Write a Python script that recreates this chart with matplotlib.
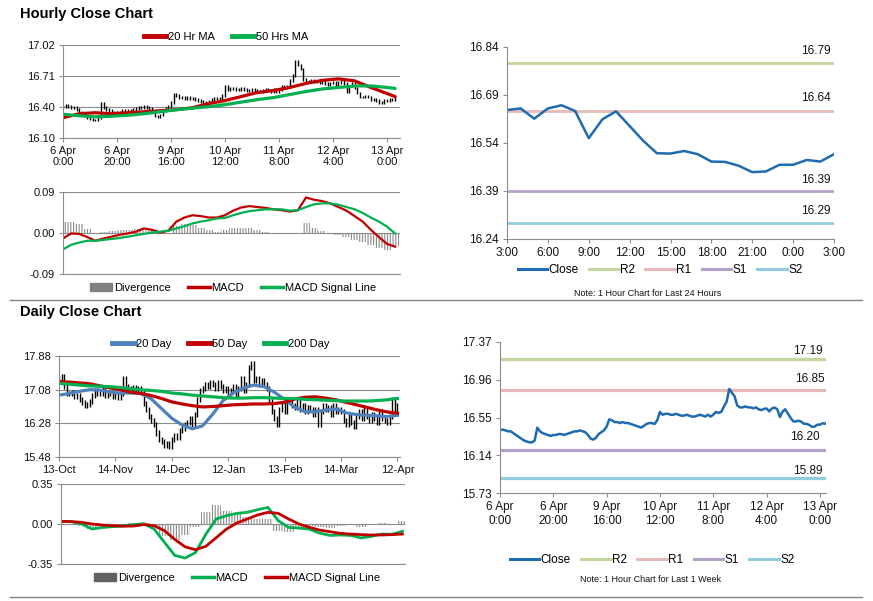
import numpy as np
import matplotlib.pyplot as plt
from matplotlib.lines import Line2D
from matplotlib.patches import Patch

plt.rcParams['font.family'] = ['Liberation Sans', 'DejaVu Sans']
plt.rcParams['hatch.linewidth'] = 0.8

# ---- hourly data (last week, one value per trading hour) ----
hourly_close = [
    16.41, 16.42, 16.41, 16.40, 16.40, 16.38, 16.36, 16.34, 16.32, 16.30,
    16.29, 16.28, 16.28, 16.30, 16.44, 16.40, 16.38, 16.37, 16.36, 16.35,
    16.36, 16.36, 16.37, 16.37, 16.36, 16.37, 16.38, 16.39, 16.40, 16.40,
    16.41, 16.40, 16.39, 16.36, 16.32, 16.31, 16.33, 16.37, 16.39, 16.41,
    16.45, 16.53, 16.52, 16.50, 16.50, 16.49, 16.50, 16.49, 16.49, 16.48,
    16.47, 16.46, 16.45, 16.44, 16.46, 16.48, 16.49, 16.49, 16.48, 16.52,
    16.61, 16.58, 16.59, 16.59, 16.58, 16.58, 16.59, 16.58, 16.57, 16.57,
    16.58, 16.57, 16.56, 16.56, 16.57, 16.58, 16.57, 16.56, 16.58, 16.56,
    16.58, 16.61, 16.60, 16.61, 16.67, 16.72, 16.86, 16.82, 16.78, 16.68,
    16.66, 16.66, 16.67, 16.66, 16.66, 16.65, 16.66, 16.64, 16.63,
    16.643, 16.648, 16.616, 16.648, 16.658, 16.640, 16.555, 16.614, 16.639, 16.593,
    16.547, 16.508, 16.507, 16.515, 16.505, 16.482, 16.481, 16.469, 16.449, 16.451,
    16.472, 16.472, 16.487, 16.482, 16.505,
]
hourly_ticks = ['6 Apr\n0:00', '6 Apr\n20:00', '9 Apr\n16:00', '10 Apr\n12:00',
                '11 Apr\n8:00', '12 Apr\n4:00', '13 Apr\n0:00']

hourly_ma_idx = [0, 6, 12, 18, 24, 30, 36, 42, 48, 54, 60, 66, 72, 78, 84, 90, 96, 102, 108, 114, 120, 123]
ma20_hr = [16.30, 16.34, 16.35, 16.34, 16.35, 16.36, 16.37, 16.38, 16.40, 16.44, 16.47,
           16.51, 16.55, 16.57, 16.60, 16.64, 16.67, 16.685, 16.665, 16.60, 16.54, 16.51]
ma50_hr = [16.335, 16.32, 16.31, 16.315, 16.325, 16.34, 16.36, 16.38, 16.395, 16.41, 16.43,
           16.455, 16.48, 16.50, 16.53, 16.56, 16.585, 16.60, 16.615, 16.615, 16.60, 16.59]

hourly_macd_idx = list(range(0, 124, 3))
macd_hr = [-0.012, -0.001, -0.002, -0.009, -0.017, -0.012, -0.008, -0.004, -0.001, 0.003,
           0.010, 0.007, 0.001, 0.005, 0.025, 0.034, 0.039, 0.037, 0.034, 0.034,
           0.039, 0.049, 0.056, 0.059, 0.057, 0.055, 0.052, 0.050, 0.047, 0.050,
           0.078, 0.073, 0.070, 0.065, 0.057, 0.049, 0.037, 0.025, 0.007, -0.009,
           -0.024, -0.030]
signal_hr = [-0.036, -0.026, -0.021, -0.017, -0.017, -0.015, -0.013, -0.011, -0.008, -0.005,
             -0.002, 0.001, 0.003, 0.005, 0.010, 0.015, 0.021, 0.025, 0.028, 0.032,
             0.033, 0.039, 0.044, 0.048, 0.050, 0.052, 0.052, 0.052, 0.049, 0.050,
             0.057, 0.063, 0.065, 0.065, 0.062, 0.057, 0.052, 0.044, 0.034, 0.025,
             0.014, -0.001]

day_hours = ['3:00', '6:00', '9:00', '12:00', '15:00', '18:00', '21:00', '0:00', '3:00']
level_names = ['R2', 'R1', 'S1', 'S2']
levels_24h = [16.79, 16.64, 16.39, 16.29]
levels_week = [17.19, 16.85, 16.20, 15.89]

# ---- daily data ----
daily_close = [
    17.35, 17.40, 17.15, 17.00, 16.98, 17.02, 16.92, 16.95, 16.85, 16.78,
    16.70, 16.72, 16.80, 16.95, 17.05, 17.00, 16.98, 17.10, 16.95, 16.98,
    17.00, 16.92, 16.95, 16.90, 17.00, 17.35, 17.15, 17.10, 17.05, 17.12,
    17.08, 17.10, 17.02, 16.75, 16.60, 16.45, 16.35, 16.25, 16.05, 15.90,
    15.85, 15.75, 15.80, 15.72, 15.90, 16.00, 15.95, 16.10, 16.15, 16.25,
    16.30, 16.40, 16.25, 16.50, 16.85, 17.05, 17.10, 17.20, 17.15, 17.25,
    17.20, 17.10, 17.25, 17.15, 17.05, 17.10, 17.00, 17.05, 17.15, 16.95,
    17.10, 17.35, 17.05, 17.20, 17.60, 17.70, 17.30, 17.35, 17.20, 17.30,
    17.20, 17.10, 16.80, 16.55, 16.40, 16.25, 16.60, 16.75, 16.55, 16.80,
    16.85, 16.70, 16.65, 16.80, 16.60, 16.70, 16.55, 16.65, 16.60, 16.50,
    16.60, 16.25, 16.55, 16.70, 16.60, 16.65, 16.50, 16.70, 16.55, 16.60,
    16.55, 16.35, 16.25, 16.45, 16.30, 16.20, 16.45, 16.55, 16.40, 16.60,
    16.45, 16.35, 16.50, 16.40, 16.30, 16.55, 16.40, 16.35, 16.30, 16.45,
    16.85, 16.55, 16.70,
]
daily_ticks = ['13-Oct', '14-Nov', '14-Dec', '12-Jan', '13-Feb', '14-Mar', '12-Apr']

daily_idx = list(range(0, 133, 4))
ma20_day = [16.95, 16.99, 17.04, 17.08, 17.07, 17.02, 17.00, 17.00, 16.99, 16.86, 16.63,
            16.40, 16.24, 16.15, 16.22, 16.50, 16.82, 17.00, 17.12, 17.19, 17.15, 17.02,
            16.85, 16.66, 16.56, 16.55, 16.60, 16.62, 16.53, 16.49, 16.47, 16.46, 16.44, 16.47]
ma50_day = [17.27, 17.26, 17.24, 17.22, 17.17, 17.12, 17.08, 17.02, 16.99, 16.94, 16.87,
            16.79, 16.74, 16.70, 16.67, 16.68, 16.70, 16.72, 16.73, 16.74, 16.74, 16.75,
            16.78, 16.86, 16.90, 16.91, 16.88, 16.84, 16.78, 16.72, 16.66, 16.60, 16.55, 16.52]
ma200_day = [17.23, 17.21, 17.19, 17.17, 17.16, 17.15, 17.13, 17.10, 17.08, 17.06, 17.04,
             17.00, 16.98, 16.95, 16.93, 16.91, 16.89, 16.88, 16.88, 16.89, 16.89, 16.88,
             16.87, 16.87, 16.85, 16.84, 16.83, 16.82, 16.81, 16.81, 16.81, 16.82, 16.84, 16.87]
macd_day = [0.023, 0.021, 0.000, -0.044, -0.030, -0.023, -0.017, -0.005, 0.003, -0.044,
            -0.160, -0.275, -0.298, -0.250, -0.090, 0.044, 0.073, 0.093, 0.102, 0.125,
            0.145, 0.029, -0.030, -0.036, -0.045, -0.080, -0.100, -0.096, -0.100, -0.122,
            -0.108, -0.088, -0.090, -0.064]
signal_day = [0.023, 0.021, 0.015, 0.000, -0.009, -0.015, -0.019, -0.018, -0.005, -0.015,
              -0.058, -0.135, -0.200, -0.225, -0.195, -0.120, -0.044, 0.009, 0.044, 0.079,
              0.102, 0.093, 0.044, 0.000, -0.029, -0.053, -0.067, -0.082, -0.088, -0.093,
              -0.096, -0.096, -0.093, -0.088]

# ---- colours ----
RED = '#C00000'
GREEN = '#00B050'
BLUE_MA = '#4F81BD'
CLOSE = '#1F6BB0'
DIV = '#8a8a8a'
GRID = '#8c8c8c'
LEVEL_COLORS = ['#C3D69B', '#E6B9B8', '#B3A2C7', '#93CDDD']

W, H = 873, 601
fig = plt.figure(figsize=(W / 100, H / 100), dpi=100)


def add_ax(x0, y0, x1, y1):
    return fig.add_axes([x0 / W, 1 - y1 / H, (x1 - x0) / W, (y1 - y0) / H])


def style_left(ax, yticks, ylabels):
    ax.set_yticks(yticks)
    ax.set_yticklabels(ylabels)
    ax.grid(axis='y', color=GRID, lw=0.8)
    ax.set_axisbelow(True)
    for s in ['top', 'right']:
        ax.spines[s].set_visible(False)
    ax.spines['left'].set_color(GRID)
    ax.spines['bottom'].set_color(GRID)
    ax.tick_params(colors=GRID, labelcolor='#111111', labelsize=8, length=3, width=0.8, pad=3)


def style_right(ax):
    for s in ['top', 'right']:
        ax.spines[s].set_visible(False)
    ax.spines['left'].set_color(GRID)
    ax.spines['bottom'].set_color(GRID)
    ax.tick_params(colors=GRID, labelcolor='#111111', labelsize=8.5, length=3, width=0.8, pad=3)


def legend_at(ax, handles, labels, cx, cy, fs=8, **kw):
    opts = dict(handlelength=2.0, handletextpad=0.15, columnspacing=1.5)
    opts.update(kw)
    ax.legend(handles, labels, loc='center', bbox_to_anchor=(cx / W, 1 - cy / H),
              bbox_transform=fig.transFigure, ncol=len(handles), frameon=False,
              fontsize=fs, borderpad=0, **opts)


def candles(ax, closes, pad):
    c = np.array(closes)
    prev = np.concatenate([[c[0]], c[:-1]])
    x = np.arange(len(c))
    ax.vlines(x, np.minimum(prev, c) - pad, np.maximum(prev, c) + pad, color='black', lw=1.0)


def divergence(ax, x, values, step):
    # striped bars, like the thin histogram lines of the original
    ax.bar(x, values, width=step, facecolor='none', edgecolor=DIV, hatch='||||||', lw=0)


# titles and separators
fig.text(20 / W, 1 - 14 / H, 'Hourly Close Chart', fontsize=10.5, fontweight='bold', va='center')
fig.text(20 / W, 1 - 312 / H, 'Daily Close Chart', fontsize=10.5, fontweight='bold', va='center')
for yy in [300, 597]:
    fig.add_artist(Line2D([10 / W, 862 / W], [1 - yy / H, 1 - yy / H], color='#808080', lw=1.0))

# ---- hourly price panel ----
ax = add_ax(63, 45, 400, 138)
candles(ax, hourly_close, 0.012)
ax.plot(hourly_ma_idx, ma20_hr, color=RED, lw=2.3, solid_capstyle='round')
ax.plot(hourly_ma_idx, ma50_hr, color=GREEN, lw=2.3, solid_capstyle='round')
ax.set_xlim(0, 124.8)
ax.set_ylim(16.10, 17.02)
style_left(ax, np.linspace(16.10, 17.02, 4), ['16.10', '16.40', '16.71', '17.02'])
ax.set_xticks(range(0, 121, 20))
ax.set_xticklabels(hourly_ticks)
for t in ax.get_xticklabels():
    t.set_linespacing(1.05)
legend_at(ax, [Line2D([], [], color=RED, lw=3.5), Line2D([], [], color=GREEN, lw=3.5)],
          ['20 Hr MA', '50 Hrs MA'], 226, 37)

# ---- hourly MACD panel ----
ax = add_ax(63, 192, 400, 274)
div_hr = np.array(macd_hr) - np.array(signal_hr)
divergence(ax, hourly_macd_idx, div_hr, 3)
ax.plot(hourly_macd_idx, macd_hr, color=RED, lw=1.6)
ax.plot(hourly_macd_idx, signal_hr, color=GREEN, lw=1.6)
ax.set_xlim(0, 124.8)
ax.set_ylim(-0.09, 0.09)
style_left(ax, [-0.09, 0.0, 0.09], ['-0.09', '0.00', '0.09'])
ax.set_xticks([])
legend_at(ax, [Patch(color='#808080'), Line2D([], [], color=RED, lw=2.5), Line2D([], [], color=GREEN, lw=2.5)],
          ['Divergence', 'MACD', 'MACD Signal Line'], 233, 288)

# ---- last 24 hours chart ----
ax = add_ax(507, 47, 834, 239)
day = hourly_close[-25:]
for lv, col in zip(levels_24h, LEVEL_COLORS):
    ax.plot([0, 24], [lv, lv], color=col, lw=2.0)
ax.plot(range(len(day)), day, color=CLOSE, lw=1.8)
for lv, dy in zip(levels_24h, [11.6, 13.3, 11.0, 11.6]):
    ax.annotate(f'{lv:.2f}', xy=(24, lv), xytext=(-2.5, dy * 0.72), textcoords='offset points',
                ha='right', va='center', fontsize=8.5, color='#111111')
ax.set_xlim(0, 24)
ax.set_ylim(16.24, 16.84)
ax.set_yticks([16.24, 16.39, 16.54, 16.69, 16.84])
ax.set_yticklabels(['16.24', '16.39', '16.54', '16.69', '16.84'])
ax.set_xticks(range(0, 25, 3))
ax.set_xticklabels(day_hours)
style_right(ax)
handles = [Line2D([], [], color=CLOSE, lw=2.2)] + [Line2D([], [], color=c, lw=2.2) for c in LEVEL_COLORS]
legend_at(ax, handles, ['Close'] + level_names, 660, 270, fs=8.5,
          handlelength=2.5, handletextpad=0.1, columnspacing=0.9)
fig.text(648 / W, 1 - 293 / H, 'Note: 1 Hour Chart for Last 24 Hours', fontsize=6.5,
         ha='center', va='center', color='#111111')

# ---- daily price panel ----
ax = add_ax(59, 356, 400, 457)
candles(ax, daily_close, 0.06)
ax.plot(daily_idx, ma20_day, color=BLUE_MA, lw=2.3)
ax.plot(daily_idx, ma50_day, color=RED, lw=2.3)
ax.plot(daily_idx, ma200_day, color=GREEN, lw=2.3)
ax.set_xlim(0, 133)
ax.set_ylim(15.48, 17.88)
style_left(ax, [15.48, 16.28, 17.08, 17.88], ['15.48', '16.28', '17.08', '17.88'])
ax.set_xticks(range(0, 133, 22))
ax.set_xticklabels(daily_ticks)
legend_at(ax, [Line2D([], [], color=BLUE_MA, lw=3.5), Line2D([], [], color=RED, lw=3.5),
               Line2D([], [], color=GREEN, lw=3.5)],
          ['20 Day', '50 Day', '200 Day'], 221, 344)

# ---- daily MACD panel ----
ax = add_ax(61, 484, 405, 564)
div_day = np.array(macd_day) - np.array(signal_day)
divergence(ax, daily_idx, div_day, 4)
ax.plot(daily_idx, macd_day, color=GREEN, lw=2.0)
ax.plot(daily_idx, signal_day, color=RED, lw=2.0)
ax.set_xlim(0, 133)
ax.set_ylim(-0.35, 0.35)
style_left(ax, [-0.35, 0.0, 0.35], ['-0.35', '0.00', '0.35'])
ax.set_xticks([])
legend_at(ax, [Patch(color='#606060'), Line2D([], [], color=GREEN, lw=2.5), Line2D([], [], color=RED, lw=2.5)],
          ['Divergence', 'MACD', 'MACD Signal Line'], 237, 578)

# ---- last week chart ----
ax = add_ax(500, 342, 826, 493)
for lv, col in zip(levels_week, LEVEL_COLORS):
    ax.plot([0, 122.3], [lv, lv], color=col, lw=2.3)
ax.plot(range(len(hourly_close)), hourly_close, color=CLOSE, lw=1.8)
for lv, dx, dy in zip(levels_week, [-3.3, -1.0, -6.0, -3.3], [7.3, 11.0, 13.0, 7.3]):
    ax.annotate(f'{lv:.2f}', xy=(122.3, lv), xytext=(dx * 0.72, dy * 0.72), textcoords='offset points',
                ha='right', va='center', fontsize=8.5, color='#111111')
ax.set_xlim(0, 122.3)
ax.set_ylim(15.73, 17.37)
ax.set_yticks([15.73, 16.14, 16.55, 16.96, 17.37])
ax.set_yticklabels(['15.73', '16.14', '16.55', '16.96', '17.37'])
ax.set_xticks(range(0, 121, 20))
ax.set_xticklabels(hourly_ticks)
style_right(ax)
legend_at(ax, handles, ['Close'] + level_names, 652, 560, fs=8.5,
          handlelength=2.5, handletextpad=0.1, columnspacing=0.9)
fig.text(650 / W, 1 - 580 / H, 'Note: 1 Hour Chart for Last 1 Week', fontsize=6.5,
         ha='center', va='center', color='#111111')

fig.savefig('out.png', dpi=100, facecolor='white')
